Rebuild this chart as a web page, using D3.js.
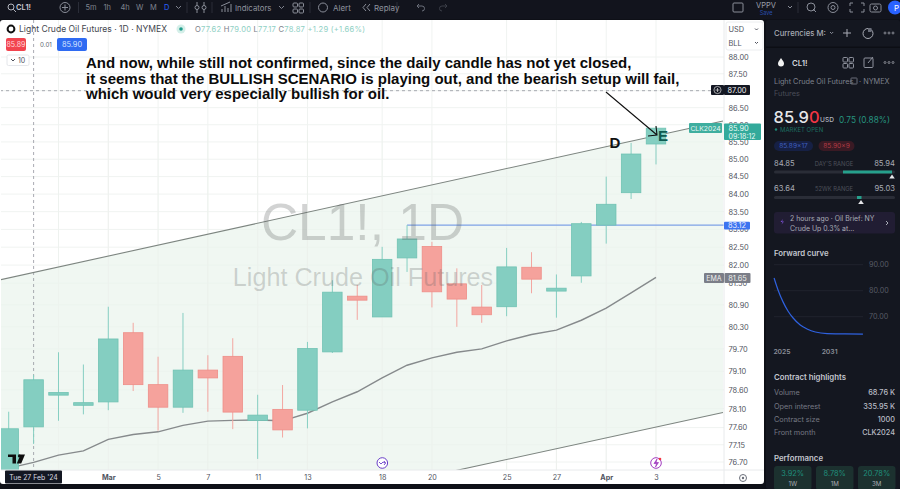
<!DOCTYPE html>
<html><head><meta charset="utf-8">
<script src="https://cdn.jsdelivr.net/npm/d3@7"></script>
<style>html,body{margin:0;padding:0;background:#0e1017;overflow:hidden}svg{display:block;font-family:Inter,"Noto Sans",sans-serif}</style>
</head><body><div id="c"></div>
<script>
const dayLabels=["26 Feb","27 Feb","28 Feb","29 Feb","Mar","4","5","6","7","8","11","12","13","14","15","18","19","20","21","22","25","26","27","28","Apr","2","3"];
const opens =[76.49,77.62,78.46,78.19,78.28,80.14,78.74,78.14,79.13,79.50,77.79,78.08,78.06,79.62,81.14,80.57,82.20,82.52,81.48,80.84,80.85,81.94,81.28,81.70,83.12,84.04,85.44];
const highs =[78.02,79.00,79.61,79.28,80.85,80.41,79.49,80.68,79.53,79.99,78.47,78.73,79.89,81.58,81.45,82.51,83.12,82.65,81.91,81.45,82.48,82.36,81.74,83.21,84.50,85.47,85.94];
const lows  =[76.30,77.17,77.78,77.95,78.06,78.57,77.52,77.99,78.02,77.56,76.78,77.34,77.58,79.59,80.49,80.57,81.81,80.83,80.30,80.41,80.59,81.22,80.55,81.51,82.60,83.86,84.85];
const closes=[77.57,78.87,78.53,78.26,79.97,78.74,78.14,79.13,78.92,78.01,77.93,77.54,79.71,81.25,81.03,82.16,82.73,81.26,81.06,80.63,81.95,81.61,81.36,83.16,83.71,85.15,85.90];
const emaValues=[76.54,76.69,76.88,76.99,77.29,77.42,77.49,77.66,77.77,77.79,77.80,77.78,77.98,78.28,78.55,78.92,79.26,79.46,79.61,79.70,79.92,80.09,80.21,80.48,80.81,81.23,81.66];
const priceTicks=[88,87.5,87,86.5,86,85.5,85,84.5,84,83.5,83,82.5,82,81.5,80.9,80.3,79.7,79.1,78.6,78.1,77.6,77.15,76.7];
const timeTickIdx=[4,6,8,10,12,15,17,20,22,24,26];
const gridIdx=[2,4,6,8,10,12,15,17,20,22,24,26];
const upperIdx=[-0.35,28.69], upperPrice=[81.59,86.11];
const lowerIdx=[-0.35,28.69], lowerPrice=[73.95,78.00];
const annotation=["And now, while still not confirmed, since the daily candle has not yet closed,","it seems that the BULLISH SCENARIO is playing out, and the bearish setup will fail,","which would very especially bullish for oil."];
const fwdYears=[2024,2024.5,2025.13,2025.75,2026.4,2027.3,2028.15,2029.2,2030.7,2032.9,2035.2];
const fwdValues=[84.9,80.3,75.7,72.2,69.5,66.8,65.3,64.1,63.5,63.4,63.3];
const fwdTicks=[90,80,70];
const highlights=[["Volume","68.76 K"],["Open interest","335.95 K"],["Contract size","1000"],["Front month","CLK2024"]];
const perf=[["3.92%","1W"],["8.78%","1M"],["20.78%","3M"]];

const W=900,H=489,F='"Liberation Sans",Arial,sans-serif';
const svg=d3.select("#c").append("svg").attr("width",W).attr("height",H);
const x=d3.scaleLinear().domain([0,26]).range([8.7,656]);
const y=d3.scaleLog().domain([76.7,88]).range([462,57]);
function t(g,px,py,s,o={}){const e=g.append("text").attr("x",px).attr("y",py).attr("dominant-baseline","central").attr("font-size",o.size||8).attr("fill",o.fill||"#b2b5be").attr("text-anchor",o.a||"start").attr("font-weight",o.w||400).text(s);if(o.f)e.attr("font-family",o.f);return e;}
function r(g,a,b,w,h,f,rx=0){return g.append("rect").attr("x",a).attr("y",b).attr("width",w).attr("height",h).attr("fill",f).attr("rx",rx);}
function p(g,d,st="#8a8e99",sw=1,f="none"){return g.append("path").attr("d",d).attr("stroke",st).attr("stroke-width",sw).attr("fill",f);}

r(svg,0,0,W,H,"#0e1017");
/* toolbar */
const tb=svg.append("g");
r(tb,0,0,W,19,"#12141d");
tb.append("circle").attr("cx",11).attr("cy",7).attr("r",3).attr("fill","none").attr("stroke","#b2b5be");
p(tb,"M13.2 9.2L16 12","#b2b5be");
t(tb,16,7.5,"CL1!",{size:7.5,fill:"#c8cad2",w:600});
tb.append("circle").attr("cx",65).attr("cy",7.5).attr("r",5).attr("fill","none").attr("stroke","#8a8e99");
p(tb,"M62 7.5H68M65 4.5V10.5");
[["5m",85.5],["1h",103.5],["4h",120.5],["W",136],["M",150],["D",164]].forEach(d=>t(tb,d[1],7.5,d[0],{size:7.5,fill:d[0]=="D"?"#2962ff":"#7f838e",a:"start"}));
p(tb,"M176 6l2.5 2.5L181 6","#7f838e");
p(tb,"M78.5 2V13M187 2V13M212 2V13M310 2V13M397 2V13","#2a2d38");
p(tb,"M197 2V13M204 2V13","#8a8e99");
tb.append("circle").attr("cx",197).attr("cy",7.5).attr("r",2).attr("fill","#12141d").attr("stroke","#8a8e99");
tb.append("circle").attr("cx",204).attr("cy",7.5).attr("r",2).attr("fill","#12141d").attr("stroke","#8a8e99");
p(tb,"M222 12V9M225 12V6M228 12V8M231 12V4M221 6L230 2");
t(tb,235,7.5,"Indicators",{size:7.8,fill:"#8f939e"});
p(tb,"M279 6l2.5 2.5L284 6","#7f838e");
[[293,3],[299,3],[293,9],[299,9]].forEach(d=>r(tb,d[0],d[1],4.5,4,"none",1).attr("stroke","#8a8e99"));
tb.append("circle").attr("cx",323).attr("cy",7.5).attr("r",4.5).attr("fill","none").attr("stroke","#8a8e99");
t(tb,333,7.5,"Alert",{size:8,fill:"#8f939e"});
p(tb,"M366 4l-3 3.5 3 3.5M370 4l-3 3.5 3 3.5");
t(tb,374,7.5,"Replay",{size:8,fill:"#8f939e"});
p(tb,"M417 6h5a2.5 2.5 0 0 1 0 5M417 6l2-2M417 6l2 2","#6b6f7a");
p(tb,"M447 6h-5a2.5 2.5 0 0 0 0 5M447 6l-2-2M447 6l-2 2","#3b3e48");
r(tb,733,3,10,9,"none",1).attr("stroke","#8a8e99");
t(tb,766,5,"VPPV",{size:7.5,fill:"#9a9ea8",a:"middle"});
t(tb,766,12.5,"Save",{size:5.5,fill:"#2a4fb0",a:"middle"});
p(tb,"M788 6l2 2 2-2","#8a8e99");p(tb,"M798 2V13","#2a2d38");
tb.append("circle").attr("cx",811).attr("cy",7).attr("r",4).attr("fill","none").attr("stroke","#8a8e99");
p(tb,"M813 9L816 12");
tb.append("circle").attr("cx",833).attr("cy",7.5).attr("r",5).attr("fill","none").attr("stroke","#8a8e99");
tb.append("circle").attr("cx",833).attr("cy",7.5).attr("r",2).attr("fill","none").attr("stroke","#8a8e99");
p(tb,"M850 6V3h3M861 3h3V6M864 9v3h-3M853 12h-3V9");
r(tb,870,4,11,8,"none",1.5).attr("stroke","#8a8e99");
tb.append("circle").attr("cx",875.5).attr("cy",8).attr("r",2).attr("fill","none").attr("stroke","#8a8e99");
tb.append("circle").attr("cx",895).attr("cy",7.5).attr("r",7).attr("fill","#2962ff");
t(tb,894,7.5,"P",{size:8,fill:"#fff"});

/* chart panel */
r(svg,0,20,764,464,"#ffffff",3);
const defs=svg.append("defs");
defs.append("clipPath").attr("id","plot").append("rect").attr("x",1).attr("y",20).attr("width",723).attr("height",450);
const plot=svg.append("g").attr("clip-path","url(#plot)");
/* grid */
plot.selectAll(".h").data(priceTicks).join("line").attr("x1",0).attr("x2",724).attr("y1",d=>y(d)).attr("y2",d=>y(d)).attr("stroke","#f0f3f1");
plot.selectAll(".v").data(gridIdx).join("line").attr("x1",d=>x(d)).attr("x2",d=>x(d)).attr("y1",20).attr("y2",470).attr("stroke","#f0f3f1");
/* channel */
const chan=upperIdx.map((d,i)=>({i:d,u:upperPrice[i],l:lowerPrice[i]}));
plot.append("path").datum(chan).attr("d",d3.area().x(d=>x(d.i)).y0(d=>y(d.l)).y1(d=>y(d.u))).attr("fill","#e9f3ec").attr("opacity",.7);
plot.selectAll(".gv").data(gridIdx).join("line").attr("x1",d=>x(d)).attr("x2",d=>x(d)).attr("y1",130).attr("y2",470).attr("stroke","#edf1ec").attr("stroke-width",.7);
/* crosshair */
plot.append("line").attr("x1",x(1)).attr("x2",x(1)).attr("y1",20).attr("y2",470).attr("stroke","#9598a1").attr("stroke-dasharray","3 3").attr("opacity",.8);
plot.append("line").attr("x1",0).attr("x2",724).attr("y1",y(87)).attr("y2",y(87)).attr("stroke","#9598a1").attr("stroke-dasharray","3 3").attr("opacity",.8);
/* trend lines */
const ln=(xs,ps)=>d3.line().x(d=>x(d[0])).y(d=>y(d[1]))(xs.map((v,i)=>[v,ps[i]]));
p(plot,ln(upperIdx,upperPrice),"#7d8580",1.1);
p(plot,ln(lowerIdx,lowerPrice),"#7d8580",1.1);
/* EMA */
plot.append("path").datum(emaValues).attr("d",d3.line().x((d,i)=>x(i)).y(d=>y(d))).attr("fill","none").attr("stroke","#868a8c").attr("stroke-width",1.4);
/* blue level */
plot.append("line").attr("x1",x(16)).attr("x2",724).attr("y1",y(83.12)).attr("y2",y(83.12)).attr("stroke","#7ea2e6").attr("stroke-width",1.2);
/* candles */
const cw=19.5, idx=d3.range(opens.length);
const up=i=>closes[i]>=opens[i];
plot.selectAll(".wick").data(idx).join("line").attr("x1",i=>x(i)).attr("x2",i=>x(i)).attr("y1",i=>y(highs[i])).attr("y2",i=>y(lows[i])).attr("stroke",i=>up(i)?"#86cfc2":"#f3a6a0").attr("stroke-width",1);
plot.selectAll(".body").data(idx).join("rect").attr("x",i=>x(i)-cw/2).attr("width",cw).attr("y",i=>y(Math.max(opens[i],closes[i]))).attr("height",i=>Math.max(1.5,Math.abs(y(opens[i])-y(closes[i])))).attr("fill",i=>up(i)?"#84cec1":"#f5a29c").attr("stroke",i=>up(i)?"#70c2b3":"#ee8e88").attr("stroke-width",.8);
/* watermark shows through candles */
t(plot,362.5,222,"CL1!, 1D",{size:51.5,fill:"rgba(90,92,92,0.27)",a:"middle",f:F});
t(plot,363,277,"Light Crude Oil Futures",{size:25.2,fill:"rgba(90,92,92,0.25)",a:"middle",f:F});
/* annotation */
const an=svg.append("g");
annotation.forEach((s,i)=>t(an,86,[62,78,93.5][i],s,{size:15,fill:"#0b0b0b",w:700,f:F}));
t(an,x(24.35),y(85.48),"D",{size:15,fill:"#111",w:700,a:"middle",f:F});
t(an,x(26.28),y(85.68),"E",{size:15,fill:"#0e5a50",w:700,a:"middle",f:F});
const ax0=[x(23.99),y(86.96)],ax1=[x(26.04),y(85.70)];
p(an,`M${ax0}L${ax1}M${ax1[0]-9},${ax1[1]+1}L${ax1}L${ax1[0]-1},${ax1[1]-9}`,"#111",1.1);

/* overlays */
[[382.3,"#6a3fc8"],[656,"#a23cc0"]].forEach(d=>{svg.append("circle").attr("cx",d[0]).attr("cy",463).attr("r",5.3).attr("fill","#fff").attr("stroke",d[1]).attr("stroke-width",1);});
p(svg,"M379 462l2 2 2-2 2.5 1M384 461l1.6 2-1.6 2","#6a3fc8",.9);
p(svg,"M657 459l-3 4.5h2.5l-1 3.5 3-4.5h-2.5z","#a23cc0",.7,"#a23cc0");
svg.append("circle").attr("cx",660).attr("cy",459).attr("r",1.3).attr("fill","#f23645");
p(svg,"M8 454.5H16V463.5H12.5V457H8ZM18.2 454.5H25L21.2 463.5H16.8L19.5 457Z","none",0,"#0e0e0e");
svg.append("circle").attr("cx",19.5).attr("cy",456).attr("r",1.6).attr("fill","#0e0e0e");

/* axes */
svg.append("line").attr("x1",724).attr("x2",724).attr("y1",20).attr("y2",484).attr("stroke","#e8eaec");
svg.append("line").attr("x1",1).attr("x2",764).attr("y1",470).attr("y2",470).attr("stroke","#e8eaec");
const yAxis=svg.append("g").attr("transform","translate(724,0)").call(d3.axisRight(y).tickValues(priceTicks.filter(d=>d!==87)).tickSize(0).tickPadding(4.5).tickFormat(d3.format(".2f")));
yAxis.select(".domain").remove();
yAxis.selectAll("text").attr("font-size",7.4).attr("font-family","Inter").attr("fill","#50535e");
const xAxis=svg.append("g").attr("transform","translate(0,470)").call(d3.axisBottom(x).tickValues(timeTickIdx).tickSize(0).tickPadding(4.5).tickFormat(i=>dayLabels[i]));
xAxis.select(".domain").remove();
xAxis.selectAll("text").attr("font-size",7.2).attr("font-family","Inter").attr("fill","#50535e").attr("font-weight",(i)=>(i==4||i==24)?700:400);
r(svg,5,470.5,57,13,"#131722",1);
t(svg,33.5,477.2,"Tue 27 Feb '24",{size:6.9,fill:"#d8dae0",a:"middle"});
svg.append("circle").attr("cx",743).attr("cy",478).attr("r",3.5).attr("fill","none").attr("stroke","#6b6f7a");
svg.append("circle").attr("cx",743).attr("cy",478).attr("r",1.2).attr("fill","#6b6f7a");

/* currency box */
r(svg,726,22,37,28,"#fff",2).attr("stroke","#eceef0");
t(svg,728.5,29.5,"USD",{size:7.4,fill:"#50535e"});
t(svg,728.5,43,"BLL",{size:7.4,fill:"#50535e"});
p(svg,"M755 28.5l1.5 1.5 1.5-1.5M755 42l1.5 1.5 1.5-1.5","#50535e");

/* price labels */
r(svg,704,273,20,10,"#7b7e88",1);r(svg,724.5,273,26,10,"#7b7e88",1);
t(svg,714,278.2,"EMA",{size:7,fill:"#eee",a:"middle"});t(svg,737.5,278.2,"81.65",{size:7.4,fill:"#eee",a:"middle"});
r(svg,724,221.7,26,7.8,"#3d74f0",1);t(svg,737,225.7,"83.12",{size:7.4,fill:"#eef",a:"middle"});
r(svg,689,123,33,10,"#3fae9f",1);t(svg,705.5,128.2,"CLK2024",{size:6.8,fill:"#e9f7f4",a:"middle"});
r(svg,724,123.5,37,16.5,"#33aa9b",1);
t(svg,728.5,128,"85.90",{size:7.4,fill:"#eafaf6"});t(svg,728.5,136,"09:18:12",{size:7,fill:"#eafaf6"});
r(svg,711,85,13,10,"#131722",1);svg.append("circle").attr("cx",717.5).attr("cy",90).attr("r",3.6).attr("fill","none").attr("stroke","#ddd").attr("stroke-width",.7);
p(svg,"M715.5 90h4M717.5 88v4","#ddd",.7);
r(svg,724,85,26,10,"#131722",1);t(svg,737,90.2,"87.00",{size:7.4,fill:"#eee",a:"middle"});

/* legend */
const lg=svg.append("g");
lg.append("circle").attr("cx",11).attr("cy",29).attr("r",3.4).attr("fill","#fff").attr("stroke","#111").attr("stroke-width",2);
t(lg,19,29,"Light Crude Oil Futures · 1D · NYMEX",{size:8.55,fill:"#44474f"});
lg.append("circle").attr("cx",181).attr("cy",29).attr("r",4.5).attr("fill","#d5efe9");
lg.append("circle").attr("cx",181).attr("cy",29).attr("r",1.8).attr("fill","#1f9c8a");
const ohlc=lg.append("text").attr("x",195).attr("y",29).attr("dominant-baseline","central").attr("font-size",7.6).attr("textLength",170).attr("lengthAdjust","spacing");
[["O","#7b7e88"],[opens[1].toFixed(2),"#8fd0c4"],[" H","#7b7e88"],[highs[1].toFixed(2),"#8fd0c4"],[" L","#7b7e88"],[lows[1].toFixed(2),"#8fd0c4"],[" C","#7b7e88"],[closes[1].toFixed(2),"#8fd0c4"],[" +1.29 (+1.66%)","#8fd0c4"]].forEach(d=>ohlc.append("tspan").attr("fill",d[1]).text(d[0]));
r(lg,6,38,20,13,"#f2444f",2);t(lg,16,44.7,"85.89",{size:7,fill:"#ffd9db",a:"middle"});
t(lg,46,44.7,"0.01",{size:6.2,fill:"#60636c",a:"middle"});
r(lg,57,38,30,13,"#2f6bf2",2);t(lg,72,44.7,"85.90",{size:7.4,fill:"#d8e4ff",a:"middle"});
r(lg,7,55,22,10.5,"#fff",1.5).attr("stroke","#e4e6ea");
p(lg,"M11 59l2 2 2-2","#50535e");t(lg,18,60.3,"10",{size:7,fill:"#50535e"});

/* sidebar */
const sb=svg.append("g");
r(sb,766,20,134,469,"#141720",2);
r(sb,766,46.5,134,1.5,"#0c0e14");
t(sb,774,33,"Currencies M:",{size:7.7,fill:"#a9acb5",w:500});
p(sb,"M830 32l1.6 1.6 1.6-1.6");p(sb,"M843 33h8M847 29v8","#a9acb5");
sb.append("circle").attr("cx",868).attr("cy",33.5).attr("r",5).attr("fill","none").attr("stroke","#a9acb5");
r(sb,868,28,3.5,4,"#6b6f7a");
[885,889,893].forEach(c=>sb.append("circle").attr("cx",c).attr("cy",33).attr("r",1).attr("fill","none").attr("stroke","#a9acb5").attr("stroke-width",.7));
p(sb,"M781 58c-2 3-3 4-3 5.5a3 3 0 0 0 6 0c0-1.5-1-2.5-3-5.5z","none",0,"#f2f2f2");
t(sb,792,62.5,"CL1!",{size:7.8,fill:"#d1d4dc",w:600});
[[843,57.5],[849,57.5],[843,63.5],[849,63.5]].forEach(d=>r(sb,d[0],d[1],4.5,4.5,"none",.8).attr("stroke","#8f939e"));
r(sb,864,58,9,9.5,"none",1).attr("stroke","#8f939e");p(sb,"M868 63l5-6","#8f939e");
[885,889,893].forEach(c=>sb.append("circle").attr("cx",c).attr("cy",62.5).attr("r",1).attr("fill","none").attr("stroke","#a9acb5").attr("stroke-width",.7));
t(sb,774,81.7,"Light Crude Oil Futures",{size:7.3,fill:"#7d818c"});
r(sb,851,78,6,6,"none",.5).attr("stroke","#6b6f7a");
t(sb,859,81.7,"· NYMEX",{size:7.3,fill:"#7d818c"});
t(sb,774,93.7,"Futures",{size:7.3,fill:"#4a4d58"});
const pr=sb.append("text").attr("x",773.5).attr("y",116.5).attr("dominant-baseline","central").attr("font-size",16.5).attr("font-weight",500);
pr.append("tspan").attr("fill","#e6e7ea").text("85.9");pr.append("tspan").attr("fill","#f23645").text("0");
t(sb,820,120,"USD",{size:6.6,fill:"#b2b5be",w:500});
t(sb,839,119.5,"0.75 (0.88%)",{size:8.3,fill:"#26937f"});
sb.append("circle").attr("cx",776).attr("cy",129.5).attr("r",1.2).attr("fill","#1d8a77");
t(sb,780,129.5,"MARKET OPEN",{size:6,fill:"#1d6e60"});
r(sb,774,141,39,10,"#162044",5);t(sb,793.5,146,"85.89×17",{size:6.6,fill:"#3f5fc0",a:"middle"});
r(sb,818.5,141,36,10,"#3a1a24",5);t(sb,836.5,146,"85.90×9",{size:6.6,fill:"#b23a44",a:"middle"});
t(sb,774,163.2,"84.85",{size:7.6,fill:"#a9acb5"});t(sb,895,163.2,"85.94",{size:7.6,fill:"#a9acb5",a:"end"});
t(sb,834,163,"DAY'S RANGE",{size:5.8,fill:"#4e515b",a:"middle"});
r(sb,774,170.5,121,3,"#2a2d37",1.5);r(sb,843,170.5,49,3,"#26a08c");
p(sb,"M892 174.5l2.8 4h-5.6z","none",0,"#e6e7ea");
t(sb,774,188.7,"63.64",{size:7.6,fill:"#a9acb5"});t(sb,895,188.7,"95.03",{size:7.6,fill:"#a9acb5",a:"end"});
t(sb,834,188.5,"52WK RANGE",{size:5.8,fill:"#4e515b",a:"middle"});
r(sb,774,196,121,3,"#2a2d37",1.5);r(sb,857,196,4.5,3,"#26a08c");
p(sb,"M861 200l2.8 4h-5.6z","none",0,"#e6e7ea");
r(sb,774,212,121,21.5,"#211d33",3);
p(sb,"M783 219l-2.5 3h2l-1 2.5 2.5-3h-2z","none",0,"#7a4fd0");
t(sb,790,218.5,"2 hours ago · Oil Brief: NY",{size:6.9,fill:"#a9acb5"});
t(sb,790,228,"Crude Up 0.3% at...",{size:6.9,fill:"#a9acb5"});
p(sb,"M886 221l2 2-2 2","#a9acb5");
t(sb,774,252.5,"Forward curve",{size:7.8,fill:"#c3c6cf",w:600});
/* forward curve */
const fx=d3.scaleLinear().domain([2025,2031]).range([782,829.6]);
const fy=d3.scaleLinear().domain([70,90]).range([316.7,264.7]);
sb.selectAll(".f").data(fwdTicks).join("line").attr("x1",774).attr("x2",863).attr("y1",d=>fy(d)).attr("y2",d=>fy(d)).attr("stroke","#20232d");
sb.selectAll(".fl").data(fwdTicks).join("text").attr("x",869).attr("y",d=>fy(d)).attr("dominant-baseline","central").attr("font-size",7.2).attr("fill","#585b66").text(d=>d.toFixed(2));
sb.append("path").datum(fwdYears.map((v,i)=>[v,fwdValues[i]])).attr("d",d3.line().x(d=>fx(d[0])).y(d=>fy(d[1])).curve(d3.curveMonotoneX)).attr("fill","none").attr("stroke","#2f62e0").attr("stroke-width",1.2);
[2025,2031].forEach(v=>t(sb,fx(v),351.5,String(v),{size:6.8,fill:"#8a8e99",a:"middle",w:600}));
t(sb,774,377,"Contract highlights",{size:7.8,fill:"#c3c6cf",w:600});
highlights.forEach((d,i)=>{const yy=392.7+i*13.3;t(sb,774,yy,d[0],{size:7.3,fill:"#747883"});t(sb,895,yy,d[1],{size:7.3,fill:"#b9bcc5",a:"end",w:500});});
t(sb,774,457.5,"Performance",{size:7.8,fill:"#c3c6cf",w:600});
perf.forEach((d,i)=>{const bx=774+i*42;r(sb,bx,466,37.5,24,"#1c312f",3);t(sb,bx+18.7,473.5,d[0],{size:7.4,fill:"#1f8f7c",a:"middle"});t(sb,bx+18.7,483.5,d[1],{size:6.2,fill:"#a9acb5",a:"middle"});});
</script></body></html>
